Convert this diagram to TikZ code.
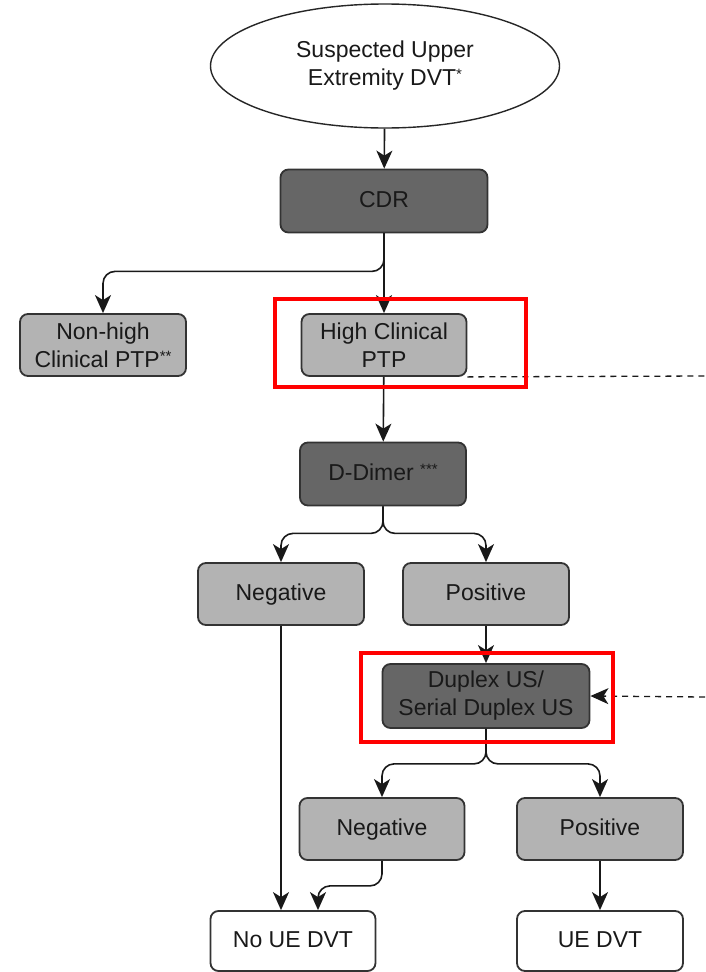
\documentclass[tikz,border=0pt]{standalone}
\usepackage{fontspec}
\setmainfont{Liberation Sans}
\usetikzlibrary{shapes.geometric,arrows.meta,calc}
\definecolor{darkfill}{HTML}{666666}
\definecolor{lightfill}{HTML}{B3B3B3}
\definecolor{edge}{HTML}{333333}
\newcommand{\stars}[1]{\raisebox{6pt}{\fontsize{15}{15}\selectfont #1}}
\begin{document}
\begin{tikzpicture}[x=1pt,y=1pt,
  every node/.style={font=\fontsize{23}{28}\selectfont, text=black!90, align=center, inner sep=0pt},
  oneline/.style={text height=17pt, text depth=5pt},
  boxbase/.style={draw=edge, line width=1.8pt, rounded corners=8pt},
  darkbox/.style={boxbase, fill=darkfill, minimum height=63pt},
  lightbox/.style={boxbase, fill=lightfill, minimum width=166pt, minimum height=62pt},
  whitebox/.style={boxbase, fill=white, minimum width=165pt, minimum height=60pt},
  tip/.style={-{Stealth[length=18pt,width=16pt,inset=5pt]}},
  arr/.style={tip, line width=1.6pt, draw=black!90, rounded corners=12pt},
  dashline/.style={line width=1.3pt, draw=black!90, dash pattern=on 6pt off 5pt},
  redbox/.style={draw=red, line width=4.5pt}
]
\useasboundingbox (0,0) rectangle (705,-972);

\node[ellipse, draw=black!85, line width=1.4pt, fill=white, minimum width=349pt, minimum height=124pt] (start) at (385,-66)
  {Suspected Upper\\Extremity DVT\stars{*}};
\node[darkbox, oneline, minimum width=207pt] (cdr) at (384,-201) {CDR};
\node[lightbox] (nonhigh) at (103,-345) {Non-high\\Clinical PTP\stars{**}};
\node[lightbox, minimum width=165pt] (high) at (384,-345) {High Clinical\\PTP};
\node[darkbox, oneline, minimum width=166pt] (ddimer) at (383,-474) {D-Dimer \stars{***}};
\node[lightbox, oneline] (neg1) at (281,-594) {Negative};
\node[lightbox, oneline] (pos1) at (486,-594) {Positive};
\node[darkbox, minimum width=207pt, minimum height=64pt] (duplex) at (486,-696) {Duplex US/\\Serial Duplex US};
\node[lightbox, oneline, minimum width=165pt] (neg2) at (382,-829) {Negative};
\node[lightbox, oneline] (pos2) at (600,-829) {Positive};
\node[whitebox, oneline] (noue) at (293,-941) {No UE DVT};
\node[whitebox, oneline, minimum width=166pt] (ue) at (600,-941) {UE DVT};

\coordinate (nin) at ([xshift=25pt]noue.north);
\coordinate (dashend) at (705,-376);
\coordinate (dashstart) at (705,-697);

\draw[arr] (start) -- (cdr);
\draw[arr] (cdr.south) -- ++(0,-38) -| (nonhigh.north);
\draw[arr] (cdr) -- (high);
\draw[arr] (high) -- (ddimer);
\draw[arr] (ddimer.south) -- ++(0,-27) -| (neg1.north);
\draw[arr] (ddimer.south) -- ++(0,-27) -| (pos1.north);
\draw[arr] (pos1) -- (duplex);
\draw[arr] (duplex.south) -- ++(0,-35) -| (neg2.north);
\draw[arr] (duplex.south) -- ++(0,-35) -| (pos2.north);
\draw[arr] (neg1.south) -- (neg1.south |- noue.north);
\draw[arr] (neg2.south) -- ++(0,-25) -| (nin);
\draw[arr] (pos2) -- (ue);

\draw[dashline] (high.south east) -- (dashend);
\draw[dashline, tip] (dashstart) -- (duplex.east);

\draw[redbox] (275,-299) rectangle (526,-387);
\draw[redbox] (361,-653) rectangle (613,-742);
\end{tikzpicture}
\end{document}
